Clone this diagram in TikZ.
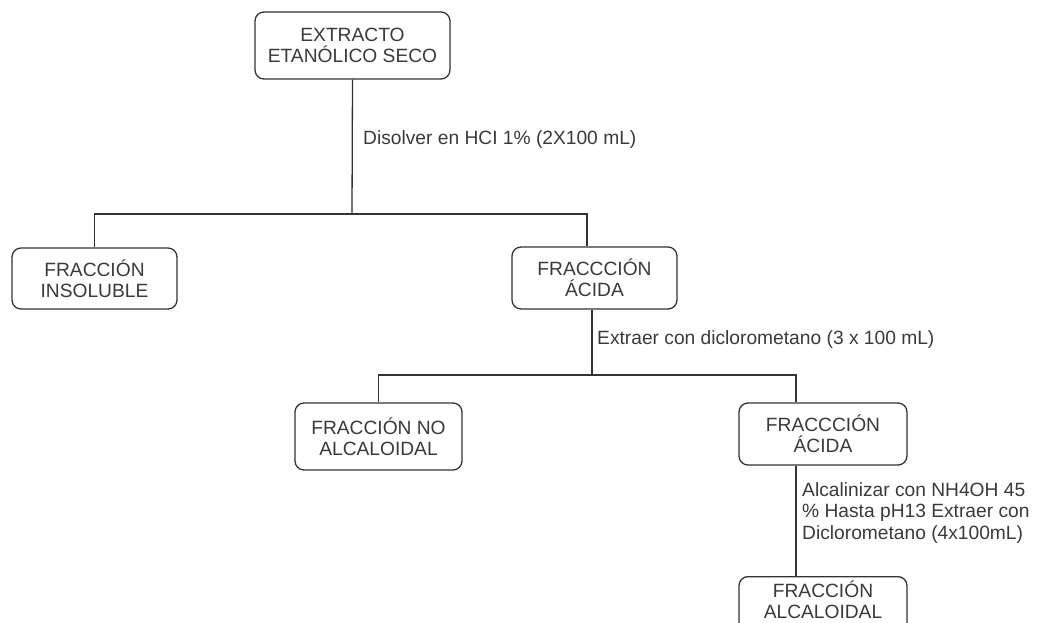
\documentclass[tikz,border=0pt]{standalone}
\usepackage{fontspec}
\setmainfont{Liberation Sans}
\definecolor{ink}{HTML}{333333}
\definecolor{txt}{HTML}{3A3A3A}
\tikzset{
  box/.style={draw=ink, line width=1.3pt, rounded corners=9pt, fill=white,
    align=center, text=txt, inner sep=0pt,
    font=\fontsize{19.2}{21}\selectfont},
  lbl/.style={text=txt, align=left, inner sep=0pt,
    font=\fontsize{19.2}{21.5}\selectfont},
  conn/.style={draw=ink, line width=1.3pt}
}
\begin{document}
\begin{tikzpicture}[x=1pt,y=-1pt]
\useasboundingbox (0,0) rectangle (1037,623);
\clip (0,0) rectangle (1037,623);
% boxes
\node[box, minimum width=195pt, minimum height=67pt] (top) at (352.5,45.5) {EXTRACTO\\ETANÓLICO SECO};
\node[box, minimum width=165pt, minimum height=61pt] (insol) at (94.5,278.5) {FRACCIÓN\\INSOLUBLE};
\node[box, minimum width=165pt, minimum height=62pt] (acida1) at (594.5,278) {FRACCCIÓN\\ÁCIDA};
\node[box, minimum width=167pt, minimum height=67pt] (noalc) at (378.5,436.5) {FRACCIÓN NO\\ALCALOIDAL};
\node[box, minimum width=168pt, minimum height=62pt] (acida2) at (823,434) {FRACCCIÓN\\ÁCIDA};
\node[box, minimum width=168pt, minimum height=0pt, inner ysep=4.5pt, text depth=30pt, anchor=north] (alcal) at (823,576) {FRACCIÓN\\ALCALOIDAL};
% junction coordinates
\coordinate (j1) at (352,214);
\coordinate (r1) at (587,214);
\coordinate (j2) at (592,375);
\coordinate (r2) at (796,375);
% connectors
\draw[conn] (top.south) -- (j1);
\draw[conn] (insol.north) |- (r1) -- (r1 |- acida1.north);
\draw[conn] (acida1.south -| j2) -- (j2);
\draw[conn] (noalc.north) |- (r2) -- (r2 |- acida2.north);
\draw[conn] (acida2.south -| r2) -- (alcal.north -| r2);
% labels
\node[lbl, anchor=west] (l1) at (363,140) {Disolver en HCI 1\% (2X100 mL)};
\node[lbl, anchor=west] (l2) at (597,340) {Extraer con diclorometano (3 x 100 mL)};
\node[lbl, anchor=west] (l3) at (802,513) {Alcalinizar con NH4OH 45\\\% Hasta pH13 Extraer con\\Diclorometano (4x100mL)};
\end{tikzpicture}
\end{document}
